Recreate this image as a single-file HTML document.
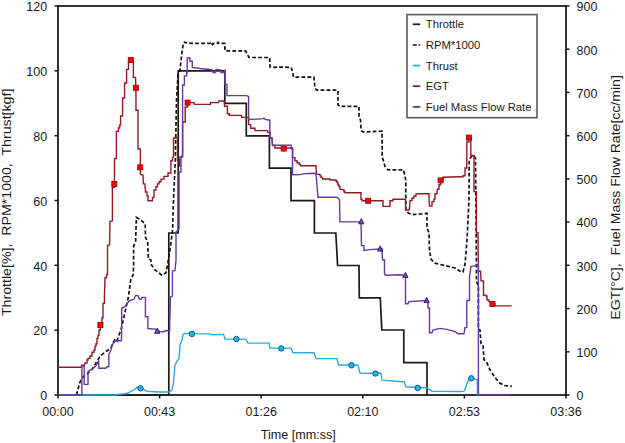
<!DOCTYPE html>
<html><head><meta charset="utf-8"><style>
html,body{margin:0;padding:0;background:#fff;width:625px;height:443px;overflow:hidden;}
svg{display:block;}
.t{font-family:"Liberation Sans",sans-serif;font-size:12.5px;fill:#1a1a1a;}
.l{font-family:"Liberation Sans",sans-serif;font-size:11.25px;fill:#1a1a1a;}
.a{font-family:"Liberation Sans",sans-serif;font-size:13px;fill:#1a1a1a;}
</style></head><body>
<svg width="625" height="443" viewBox="0 0 625 443">
<rect x="58" y="6" width="508" height="389" fill="none" stroke="#111" stroke-width="1.7"/>
<line x1="54.5" y1="395.0" x2="58" y2="395.0" stroke="#111" stroke-width="1.5"/>
<text x="47.2" y="400.2" text-anchor="end" class="t">0</text>
<line x1="54.5" y1="330.2" x2="58" y2="330.2" stroke="#111" stroke-width="1.5"/>
<text x="47.2" y="335.4" text-anchor="end" class="t">20</text>
<line x1="54.5" y1="265.3" x2="58" y2="265.3" stroke="#111" stroke-width="1.5"/>
<text x="47.2" y="270.5" text-anchor="end" class="t">40</text>
<line x1="54.5" y1="200.5" x2="58" y2="200.5" stroke="#111" stroke-width="1.5"/>
<text x="47.2" y="205.7" text-anchor="end" class="t">60</text>
<line x1="54.5" y1="135.7" x2="58" y2="135.7" stroke="#111" stroke-width="1.5"/>
<text x="47.2" y="140.9" text-anchor="end" class="t">80</text>
<line x1="54.5" y1="70.8" x2="58" y2="70.8" stroke="#111" stroke-width="1.5"/>
<text x="47.2" y="76.0" text-anchor="end" class="t">100</text>
<line x1="54.5" y1="6.0" x2="58" y2="6.0" stroke="#111" stroke-width="1.5"/>
<text x="47.2" y="11.2" text-anchor="end" class="t">120</text>
<line x1="566" y1="395.0" x2="569.5" y2="395.0" stroke="#111" stroke-width="1.5"/>
<text x="576.6" y="400.3" class="t">0</text>
<line x1="566" y1="351.8" x2="569.5" y2="351.8" stroke="#111" stroke-width="1.5"/>
<text x="576.6" y="357.1" class="t">100</text>
<line x1="566" y1="308.6" x2="569.5" y2="308.6" stroke="#111" stroke-width="1.5"/>
<text x="576.6" y="313.9" class="t">200</text>
<line x1="566" y1="265.3" x2="569.5" y2="265.3" stroke="#111" stroke-width="1.5"/>
<text x="576.6" y="270.6" class="t">300</text>
<line x1="566" y1="222.1" x2="569.5" y2="222.1" stroke="#111" stroke-width="1.5"/>
<text x="576.6" y="227.4" class="t">400</text>
<line x1="566" y1="178.9" x2="569.5" y2="178.9" stroke="#111" stroke-width="1.5"/>
<text x="576.6" y="184.2" class="t">500</text>
<line x1="566" y1="135.7" x2="569.5" y2="135.7" stroke="#111" stroke-width="1.5"/>
<text x="576.6" y="141.0" class="t">600</text>
<line x1="566" y1="92.4" x2="569.5" y2="92.4" stroke="#111" stroke-width="1.5"/>
<text x="576.6" y="97.7" class="t">700</text>
<line x1="566" y1="49.2" x2="569.5" y2="49.2" stroke="#111" stroke-width="1.5"/>
<text x="576.6" y="54.5" class="t">800</text>
<line x1="566" y1="6.0" x2="569.5" y2="6.0" stroke="#111" stroke-width="1.5"/>
<text x="576.6" y="11.3" class="t">900</text>
<line x1="58.0" y1="395" x2="58.0" y2="398.5" stroke="#111" stroke-width="1.5"/>
<text x="58.0" y="416.2" text-anchor="middle" class="t">00:00</text>
<line x1="159.6" y1="395" x2="159.6" y2="398.5" stroke="#111" stroke-width="1.5"/>
<text x="159.6" y="416.2" text-anchor="middle" class="t">00:43</text>
<line x1="261.2" y1="395" x2="261.2" y2="398.5" stroke="#111" stroke-width="1.5"/>
<text x="261.2" y="416.2" text-anchor="middle" class="t">01:26</text>
<line x1="362.8" y1="395" x2="362.8" y2="398.5" stroke="#111" stroke-width="1.5"/>
<text x="362.8" y="416.2" text-anchor="middle" class="t">02:10</text>
<line x1="464.4" y1="395" x2="464.4" y2="398.5" stroke="#111" stroke-width="1.5"/>
<text x="464.4" y="416.2" text-anchor="middle" class="t">02:53</text>
<line x1="566.0" y1="395" x2="566.0" y2="398.5" stroke="#111" stroke-width="1.5"/>
<text x="566.0" y="416.2" text-anchor="middle" class="t">03:36</text>
<polyline points="58.0,395.0 168.8,395.0 168.8,233.0 178.2,233.0 178.2,70.8 224.8,70.8 224.8,103.4 246.3,103.4 246.3,135.8 269.4,135.8 269.4,168.1 291.0,168.1 291.0,200.6 314.4,200.6 314.4,233.0 335.8,233.0 337.6,265.5 359.0,265.5 359.3,297.9 380.3,297.9 381.8,330.0 403.8,330.0 403.8,362.6 427.0,362.6 427.0,395.0" fill="none" stroke="#1a1a1a" stroke-width="1.7" stroke-linejoin="miter"/>
<polyline points="76.4,395.0 80.0,382.0 83.6,376.4 87.0,374.0 92.4,369.0 96.0,363.0 99.6,357.0 104.4,352.4 110.8,348.4 112.0,345.0 114.8,339.6 117.0,341.0 119.6,333.2 121.0,330.0 128.4,297.0 130.8,279.4 133.2,274.6 133.6,265.0 133.6,246.2 135.6,241.4 136.4,217.4 139.6,219.0 145.2,223.8 145.5,237.4 147.6,241.4 148.4,259.0 150.8,259.8 151.5,265.0 155.0,270.0 162.0,275.2 166.0,272.8 168.0,262.0 170.0,250.0 172.6,230.0 173.5,200.0 175.3,160.0 176.5,100.0 178.0,75.0 180.0,70.0 181.6,55.6 182.8,47.0 183.2,43.2 184.5,42.2 186.0,42.8 188.0,42.2 190.0,43.2 192.0,43.3 210.0,43.3 211.5,42.0 212.5,44.5 214.0,43.3 217.0,43.3 218.0,42.2 219.0,43.3 224.8,43.3 225.0,50.8 245.6,50.8 249.0,57.5 269.6,57.5 270.0,66.8 272.0,67.4 281.0,67.0 291.2,67.4 293.0,74.0 293.5,77.2 313.9,77.2 315.0,88.4 317.0,90.2 337.9,90.2 338.0,104.8 340.0,106.4 359.0,106.4 359.0,116.0 360.5,120.0 361.0,130.4 363.0,132.0 382.0,131.2 382.2,156.8 385.0,166.4 388.0,169.8 403.5,169.8 405.0,176.0 405.8,181.0 405.8,210.0 408.0,212.7 412.0,214.6 420.0,214.0 427.0,213.3 427.0,228.0 429.0,232.8 429.5,250.0 431.0,259.2 435.0,263.2 445.0,265.6 455.0,268.0 460.0,271.2 463.0,272.0 465.0,264.0 466.0,252.8 467.0,240.0 469.0,200.0 469.2,160.0 471.0,157.0 473.0,155.3 475.5,158.0 475.8,190.0 476.2,240.0 476.5,281.6 478.4,286.0 478.4,329.2 480.0,330.0 481.0,343.6 483.0,345.0 484.0,359.6 487.0,363.0 490.0,370.0 495.0,377.5 500.0,383.2 505.0,385.6 512.0,386.4" fill="none" stroke="#111" stroke-width="1.7" stroke-linejoin="miter" stroke-dasharray="3.8 2.2"/>
<polyline points="58.0,395.0 115.0,395.0 120.0,394.3 125.0,393.7 128.0,393.0 130.0,391.8 133.0,390.5 135.0,389.3 137.0,387.3 140.5,387.2 143.0,388.7 145.0,390.5 147.0,391.4 150.0,391.5 160.0,392.0 168.5,392.0 170.0,391.8 172.0,389.9 173.6,381.9 175.0,365.1 177.0,361.1 179.0,358.7 180.0,345.1 182.0,340.3 183.0,334.7 184.5,333.4 200.0,333.9 210.0,333.9 212.0,334.8 223.6,334.4 225.0,339.0 246.0,339.1 248.0,343.1 269.0,343.1 270.0,348.1 291.0,348.1 293.0,352.7 314.0,352.7 316.0,358.6 337.0,358.6 338.5,365.0 358.0,365.0 360.0,373.0 381.0,373.2 382.0,380.2 400.0,381.5 404.0,381.7 406.0,386.7 425.0,387.7 428.0,388.7 432.0,391.2 460.0,391.5 464.0,391.1 466.0,387.1 467.0,383.1 469.0,379.1 474.0,378.7 476.0,379.1 477.3,379.7 477.5,395.0" fill="none" stroke="#2eaad9" stroke-width="1.4" stroke-linejoin="miter"/>
<circle cx="140.5" cy="388.3" r="2.7" fill="#22b8ec" stroke="#0f5584" stroke-width="1"/>
<circle cx="191.9" cy="333.9" r="2.7" fill="#22b8ec" stroke="#0f5584" stroke-width="1"/>
<circle cx="236.4" cy="339.0" r="2.7" fill="#22b8ec" stroke="#0f5584" stroke-width="1"/>
<circle cx="281.3" cy="348.4" r="2.7" fill="#22b8ec" stroke="#0f5584" stroke-width="1"/>
<circle cx="351.5" cy="365.3" r="2.7" fill="#22b8ec" stroke="#0f5584" stroke-width="1"/>
<circle cx="375.5" cy="373.5" r="2.7" fill="#22b8ec" stroke="#0f5584" stroke-width="1"/>
<circle cx="417.7" cy="387.9" r="2.7" fill="#22b8ec" stroke="#0f5584" stroke-width="1"/>
<circle cx="471.3" cy="378.3" r="2.7" fill="#22b8ec" stroke="#0f5584" stroke-width="1"/>
<polyline points="58.0,367.2 81.5,367.2 81.5,365.3 84.4,365.3 85.0,363.0 87.0,363.0 87.0,360.0 88.0,360.0 88.0,358.4 90.0,358.4 90.0,356.0 92.0,356.0 92.0,352.2 94.0,352.2 94.0,350.0 95.0,350.0 95.0,346.1 96.0,346.1 96.0,343.8 97.0,343.8 97.0,338.4 98.0,338.4 98.0,335.4 99.0,335.4 99.0,330.0 100.4,330.0 100.4,325.0 102.0,325.0 102.0,317.8 103.0,317.8 103.0,303.4 104.4,303.4 104.4,298.6 105.0,277.8 106.6,277.8 106.6,274.6 107.5,274.6 107.5,265.0 107.5,245.4 109.6,245.0 110.0,221.4 112.4,221.0 112.4,187.4 114.4,187.4 114.4,184.0 114.5,158.6 116.4,158.6 116.4,157.0 116.4,131.4 118.4,131.4 118.4,128.0 119.6,128.0 119.6,125.0 120.6,125.0 120.6,116.0 122.6,116.0 122.6,115.0 122.6,98.0 124.6,98.0 124.6,96.6 124.6,83.0 126.6,83.0 126.6,82.2 126.6,69.4 128.5,69.4 128.5,62.0 130.8,62.0 130.8,60.0 133.4,60.0 133.4,62.0 133.4,77.4 135.6,77.4 135.6,80.6 135.9,87.8 136.0,110.2 138.0,110.2 138.0,112.0 138.0,149.0 140.4,149.0 140.4,153.0 140.3,167.3 140.5,174.4 143.0,175.0 143.4,183.9 145.0,183.9 145.0,185.0 145.5,192.0 147.0,192.0 147.0,196.0 148.0,196.0 148.0,200.8 151.0,200.8 152.5,200.8 152.5,197.4 154.0,197.4 154.0,190.0 156.0,190.0 156.0,186.6 157.5,186.6 157.5,183.9 159.0,183.9 159.0,181.8 161.0,181.8 161.0,179.1 164.0,179.1 164.0,176.4 168.0,176.4 168.0,173.0 170.9,173.0 170.9,171.7 170.9,160.8 172.5,160.8 172.5,157.5 173.5,157.0 173.5,138.0 176.5,138.0 177.5,138.0 177.5,160.0 179.3,160.0 179.3,166.0 180.0,166.0 180.0,157.0 182.6,157.0 182.6,155.0 182.6,122.0 185.2,122.0 185.2,120.6 185.2,107.0 187.6,107.0 187.6,102.6 194.0,102.6 194.5,104.4 210.4,104.4 210.6,102.6 218.4,102.6 219.0,101.0 224.3,101.0 224.5,106.2 227.4,106.2 227.4,113.8 229.4,113.8 229.4,115.4 241.4,115.4 241.6,117.4 248.6,117.4 248.6,124.6 250.6,124.6 250.6,128.2 255.0,128.2 255.0,130.6 267.5,130.6 268.0,132.5 270.0,132.5 270.0,138.0 272.0,138.0 272.5,145.5 275.0,145.5 275.0,148.0 292.6,148.0 292.6,157.6 295.0,157.6 295.0,160.7 297.0,160.7 297.0,162.7 299.0,162.7 299.0,164.2 300.5,164.2 300.5,165.8 314.9,165.8 316.0,165.8 316.0,167.8 316.5,173.9 318.0,174.4 320.0,174.4 320.0,175.9 321.0,175.9 321.0,177.4 322.5,177.4 322.5,179.0 328.6,179.0 330.0,179.0 330.0,180.0 336.0,180.0 336.0,181.0 337.0,181.0 337.0,182.5 338.0,182.5 338.0,185.0 339.0,185.0 339.0,186.6 340.0,186.6 340.0,189.1 343.0,189.6 344.0,189.6 344.0,191.7 345.0,191.7 345.0,192.8 358.0,192.8 361.0,192.8 361.0,199.2 362.0,199.2 362.0,200.8 368.1,200.8 382.0,200.8 383.0,200.8 383.0,206.4 386.0,206.4 390.0,206.4 390.0,200.8 393.0,200.8 393.0,199.2 405.5,199.2 405.6,210.0 409.0,210.0 409.5,208.4 410.0,200.5 412.0,200.5 412.0,198.0 414.0,198.0 414.0,196.0 416.0,196.0 416.0,194.0 418.0,193.7 427.0,193.7 429.0,193.7 429.0,198.2 429.5,206.1 432.0,206.1 432.0,201.6 434.0,201.6 434.0,199.0 435.0,199.0 435.0,193.7 437.0,193.7 437.0,192.0 437.5,189.2 439.0,189.2 439.0,188.0 439.0,184.7 440.6,184.7 440.6,180.4 443.0,180.4 443.0,177.3 460.0,176.8 463.0,176.8 463.0,175.8 465.0,175.8 465.0,168.0 466.8,168.0 466.8,163.2 466.8,142.0 468.9,142.0 468.9,137.6 470.8,137.6 470.8,140.0 470.8,155.3 474.0,155.5 474.0,191.6 476.4,191.6 476.4,193.0 476.4,232.8 478.0,232.8 478.0,235.0 478.4,271.2 480.6,271.2 481.0,280.8 483.5,281.0 483.5,295.2 486.0,295.2 486.0,296.0 487.0,296.0 487.0,300.0 489.0,300.0 489.0,301.6 492.4,301.6 492.4,304.0 495.0,304.0 495.0,305.9 511.6,305.9" fill="none" stroke="#901b24" stroke-width="1.4" stroke-linejoin="miter"/>
<rect x="97.9" y="322.5" width="5" height="5" fill="#ff0000" stroke="#9a0808" stroke-width="0.9"/>
<rect x="111.8" y="181.5" width="5" height="5" fill="#ff0000" stroke="#9a0808" stroke-width="0.9"/>
<rect x="128.3" y="57.5" width="5" height="5" fill="#ff0000" stroke="#9a0808" stroke-width="0.9"/>
<rect x="133.4" y="85.3" width="5" height="5" fill="#ff0000" stroke="#9a0808" stroke-width="0.9"/>
<rect x="137.7" y="164.8" width="5" height="5" fill="#ff0000" stroke="#9a0808" stroke-width="0.9"/>
<rect x="185.1" y="100.1" width="5" height="5" fill="#ff0000" stroke="#9a0808" stroke-width="0.9"/>
<rect x="281.2" y="146.1" width="5" height="5" fill="#ff0000" stroke="#9a0808" stroke-width="0.9"/>
<rect x="365.6" y="198.3" width="5" height="5" fill="#ff0000" stroke="#9a0808" stroke-width="0.9"/>
<rect x="438.1" y="177.9" width="5" height="5" fill="#ff0000" stroke="#9a0808" stroke-width="0.9"/>
<rect x="466.4" y="135.1" width="5" height="5" fill="#ff0000" stroke="#9a0808" stroke-width="0.9"/>
<rect x="489.9" y="301.5" width="5" height="5" fill="#ff0000" stroke="#9a0808" stroke-width="0.9"/>
<polyline points="58.0,395.0 81.9,395.0 81.9,366.0 84.2,366.0 84.2,384.4 88.0,384.4 88.0,371.4 90.0,370.2 92.0,369.0 94.0,367.6 96.0,365.6 98.0,362.2 98.8,360.7 98.8,368.3 105.7,368.3 107.0,366.8 108.8,366.8 108.8,354.5 111.0,350.0 112.0,345.3 114.0,342.3 116.0,340.7 121.5,340.7 121.8,308.0 125.0,306.7 127.0,303.6 129.0,301.1 131.0,300.2 134.0,299.3 135.5,295.6 138.0,295.6 139.0,298.7 141.0,299.3 142.0,297.4 145.4,297.4 145.4,316.7 147.9,316.7 147.9,328.5 155.0,329.1 160.0,331.6 163.0,332.0 165.0,331.0 169.7,330.3 169.7,324.0 170.5,297.0 172.4,296.0 172.4,271.0 175.0,270.4 176.0,260.0 176.0,232.0 179.0,229.0 179.0,172.0 181.0,172.0 181.0,157.0 182.6,155.0 182.6,85.0 184.4,85.0 184.4,75.9 186.7,75.9 186.7,72.5 187.2,72.5 187.2,58.0 190.0,58.0 190.0,61.3 192.3,61.3 192.3,67.5 200.0,68.5 210.0,69.5 212.5,70.0 213.0,72.6 215.5,72.6 216.0,69.6 220.5,70.0 221.0,72.6 223.8,72.6 224.8,70.8 225.0,84.4 227.0,84.4 227.0,95.6 246.4,95.6 248.6,96.4 248.6,119.4 258.0,119.0 263.0,118.6 264.0,118.2 265.0,119.4 268.6,120.0 269.8,120.0 269.8,138.0 272.0,138.0 272.5,145.2 291.0,145.2 291.5,149.0 292.5,149.2 292.5,174.8 300.0,174.6 305.0,173.6 314.0,173.2 316.0,173.6 318.0,197.2 336.0,197.2 337.6,197.6 339.5,200.0 340.0,221.9 361.0,221.9 361.5,245.6 364.0,245.6 364.0,250.4 370.0,249.6 382.0,248.8 382.5,260.0 384.5,260.0 384.5,274.4 386.0,275.2 400.0,274.8 405.5,275.3 405.5,303.7 408.0,303.7 409.0,301.6 427.8,300.5 428.0,308.0 429.5,308.0 429.5,332.8 432.0,332.8 433.0,330.0 440.0,328.4 448.0,329.6 455.0,331.6 458.0,333.7 464.0,333.7 465.0,327.6 466.8,327.6 466.8,300.5 469.5,300.5 469.5,276.8 471.0,266.4 477.0,265.6 478.4,264.0 478.4,395.0 511.0,395.0" fill="none" stroke="#66399f" stroke-width="1.4" stroke-linejoin="miter"/>
<polygon points="154.6,333.3 159.8,333.3 157.2,328.1" fill="#7450b4" stroke="#2c1458" stroke-width="0.9" stroke-linejoin="round"/>
<polygon points="358.7,223.8 363.9,223.8 361.3,218.6" fill="#7450b4" stroke="#2c1458" stroke-width="0.9" stroke-linejoin="round"/>
<polygon points="377.6,251.1 382.8,251.1 380.2,245.9" fill="#7450b4" stroke="#2c1458" stroke-width="0.9" stroke-linejoin="round"/>
<polygon points="402.8,277.5 408.0,277.5 405.4,272.3" fill="#7450b4" stroke="#2c1458" stroke-width="0.9" stroke-linejoin="round"/>
<polygon points="424.0,302.6 429.2,302.6 426.6,297.4" fill="#7450b4" stroke="#2c1458" stroke-width="0.9" stroke-linejoin="round"/>
<rect x="407" y="14.6" width="130" height="103.1" fill="#fff" stroke="#595959" stroke-width="1.6"/>
<line x1="412.8" y1="24.3" x2="420.2" y2="24.3" stroke="#1a1a1a" stroke-width="1.7"/>
<text x="425.8" y="28.4" class="l">Throttle</text>
<line x1="412.8" y1="45.0" x2="420.2" y2="45.0" stroke="#111" stroke-width="1.7" stroke-dasharray="4 1.8 1.6 10"/>
<text x="425.8" y="49.1" class="l">RPM*1000</text>
<line x1="412.8" y1="65.6" x2="420.2" y2="65.6" stroke="#2eaad9" stroke-width="1.7"/>
<text x="425.8" y="69.7" class="l">Thrust</text>
<line x1="412.8" y1="86.2" x2="420.2" y2="86.2" stroke="#7a1a2a" stroke-width="1.7"/>
<text x="425.8" y="90.3" class="l">EGT</text>
<line x1="412.8" y1="106.9" x2="420.2" y2="106.9" stroke="#4a3490" stroke-width="1.7"/>
<text x="425.8" y="111.0" class="l">Fuel Mass Flow Rate</text>
<text x="298.3" y="439" text-anchor="middle" class="t" textLength="75" lengthAdjust="spacingAndGlyphs">Time [mm:ss]</text>
<text transform="translate(11.3,316.1) rotate(-90)" class="a" textLength="227.5" lengthAdjust="spacingAndGlyphs">Throttle[%],&#160; RPM*1000,&#160; Thrust[kgf]</text>
<text transform="translate(620.3,319.7) rotate(-90)" class="a" textLength="244.5" lengthAdjust="spacingAndGlyphs">EGT[°C],&#160; Fuel Mass Flow Rate[cc/min]</text>
</svg>
</body></html>
